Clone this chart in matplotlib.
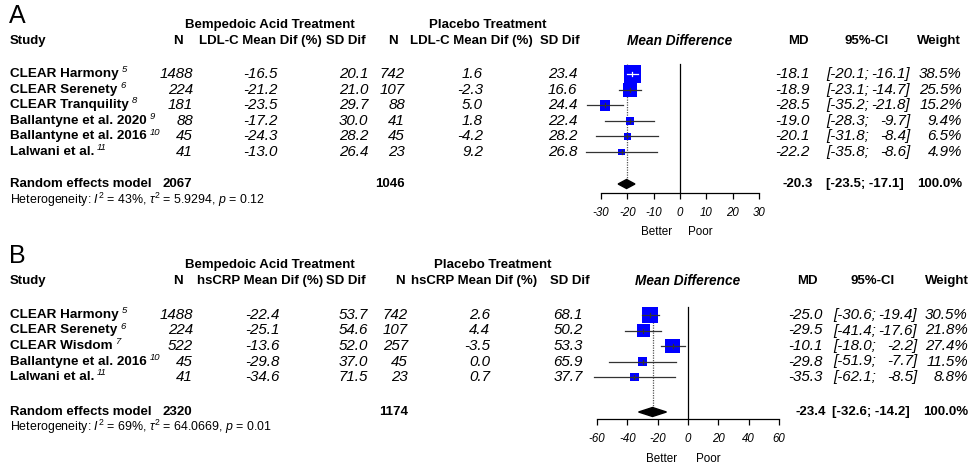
import matplotlib
matplotlib.use("Agg")
import matplotlib.pyplot as plt
from matplotlib.patches import Rectangle, Polygon

plt.rcParams["font.family"] = ["Liberation Sans", "DejaVu Sans"]
plt.rcParams["mathtext.fontset"] = "custom"
plt.rcParams["mathtext.rm"] = "Liberation Sans"
plt.rcParams["mathtext.it"] = "Liberation Sans:italic"
plt.rcParams["mathtext.bf"] = "Liberation Sans:bold"

# ---- Panel A: LDL-C ----
a_studies = ["CLEAR Harmony", "CLEAR Serenety", "CLEAR Tranquility",
             "Ballantyne et al. 2020", "Ballantyne et al. 2016", "Lalwani et al."]
a_refs = ["5", "6", "8", "9", "10", "11"]
a_n_bem = [1488, 224, 181, 88, 45, 41]
a_mean_bem = [-16.5, -21.2, -23.5, -17.2, -24.3, -13.0]
a_sd_bem = [20.1, 21.0, 29.7, 30.0, 28.2, 26.4]
a_n_pla = [742, 107, 88, 41, 45, 23]
a_mean_pla = [1.6, -2.3, 5.0, 1.8, -4.2, 9.2]
a_sd_pla = [23.4, 16.6, 24.4, 22.4, 28.2, 26.8]
a_md = [-18.1, -18.9, -28.5, -19.0, -20.1, -22.2]
a_lo = [-20.1, -23.1, -35.2, -28.3, -31.8, -35.8]
a_hi = [-16.1, -14.7, -21.8, -9.7, -8.4, -8.6]
a_weight = [38.5, 25.5, 15.2, 9.4, 6.5, 4.9]
a_pooled = [-20.3, -23.5, -17.1]
a_totals = [2067, 1046]
a_het = ["43%", "5.9294", "0.12"]
a_ticks = [-30, -20, -10, 0, 10, 20, 30]

# ---- Panel B: hsCRP ----
b_studies = ["CLEAR Harmony", "CLEAR Serenety", "CLEAR Wisdom",
             "Ballantyne et al. 2016", "Lalwani et al."]
b_refs = ["5", "6", "7", "10", "11"]
b_n_bem = [1488, 224, 522, 45, 41]
b_mean_bem = [-22.4, -25.1, -13.6, -29.8, -34.6]
b_sd_bem = [53.7, 54.6, 52.0, 37.0, 71.5]
b_n_pla = [742, 107, 257, 45, 23]
b_mean_pla = [2.6, 4.4, -3.5, 0.0, 0.7]
b_sd_pla = [68.1, 50.2, 53.3, 65.9, 37.7]
b_md = [-25.0, -29.5, -10.1, -29.8, -35.3]
b_lo = [-30.6, -41.4, -18.0, -51.9, -62.1]
b_hi = [-19.4, -17.6, -2.2, -7.7, -8.5]
b_weight = [30.5, 21.8, 27.4, 11.5, 8.8]
b_pooled = [-23.4, -32.6, -14.2]
b_totals = [2320, 1174]
b_het = ["69%", "64.0669", "0.01"]
b_ticks = [-60, -40, -20, 0, 20, 40, 60]

W, H = 971, 466
fig = plt.figure(figsize=(W / 100, H / 100), dpi=100)
tab = fig.add_axes([0, 0, 1, 1])
tab.set_xlim(0, W)
tab.set_ylim(H, 0)
tab.axis("off")

ROW = 10.9
HEAD = 9.5
BLUE = "#0000FF"


def panel(letter, top, studies, refs, n_bem, mean_bem, sd_bem, n_pla, mean_pla,
          sd_pla, md, lo, hi, weight, pooled, totals, het, ticks, measure, lay):
    # header block
    tab.text(9, top + 16, letter, fontsize=18, va="center", ha="left")
    tab.text(270, top + 25, "Bempedoic Acid Treatment", fontsize=HEAD,
             fontweight="bold", ha="center", va="center")
    tab.text(lay["pla_c"], top + 25, "Placebo Treatment", fontsize=HEAD,
             fontweight="bold", ha="center", va="center")
    hy = top + 41
    hd = dict(fontsize=HEAD, fontweight="bold", ha="center", va="center")
    tab.text(10, hy, "Study", fontsize=HEAD, fontweight="bold", va="center")
    tab.text(178, hy, "N", **hd)
    tab.text(260, hy, measure + " Mean Dif (%)", **hd)
    tab.text(346, hy, "SD Dif", **hd)
    tab.text(lay["n2_c"], hy, "N", **hd)
    tab.text(lay["m2_c"], hy, measure + " Mean Dif (%)", **hd)
    tab.text(lay["sd2_c"], hy, "SD Dif", **hd)
    tab.text(lay["zero"], hy, "Mean Difference", fontsize=9.8, fontweight="bold",
             style="italic", ha="center", va="center")
    tab.text(lay["md_c"], hy, "MD", **hd)
    tab.text(lay["ci_c"], hy, "95%-CI", **hd)
    tab.text(lay["w_c"], hy, "Weight", **hd)

    # study rows
    rows = [top + lay["r0"] + i * lay["dy"] for i in range(len(studies))]
    it = dict(fontsize=ROW, style="italic", va="center", ha="right")
    for i, y in enumerate(rows):
        t = tab.text(10, y, studies[i], fontsize=9.7, fontweight="bold", va="center")
        tab.annotate(refs[i], xy=(1, 0.86), xycoords=t, xytext=(2, 0),
                     textcoords="offset points", fontsize=6.8, style="italic",
                     ha="left", va="center")
        tab.text(193, y, f"{n_bem[i]}", **it)
        tab.text(lay["m1_r"], y, f"{mean_bem[i]:.1f}", **it)
        tab.text(368, y, f"{sd_bem[i]:.1f}", **it)
        tab.text(lay["n2_r"], y, f"{n_pla[i]}", **it)
        tab.text(lay["m2_r"], y, f"{mean_pla[i]:.1f}", **it)
        tab.text(lay["sd2_r"], y, f"{sd_pla[i]:.1f}", **it)
        tab.text(lay["md_r"], y, f"{md[i]:.1f}", **it)
        tab.text(lay["semi"], y, f"[{lo[i]:.1f};", **it)
        tab.text(lay["ci_r"], y, f"{hi[i]:.1f}]", **it)
        tab.text(lay["w_r"], y, f"{weight[i]:.1f}%", **it)

    # pooled row
    ry = top + lay["pool"]
    bd = dict(fontsize=HEAD, fontweight="bold", va="center")
    tab.text(10, ry, "Random effects model", **bd)
    tab.text(192, ry, f"{totals[0]}", ha="right", **bd)
    tab.text(lay["n2_r"], ry, f"{totals[1]}", ha="right", **bd)
    tab.text(lay["md_r"] + 3, ry, f"{pooled[0]:.1f}", ha="right", **bd)
    tab.text(lay["ci_c"] - 2, ry, f"[{pooled[1]:.1f}; {pooled[2]:.1f}]", ha="center", **bd)
    tab.text(lay["w_r"], ry, "100.0%", ha="right", **bd)
    tab.text(10, top + lay["het"],
             r"Heterogeneity: $I^2$ = " + het[0] + r", $\tau^2$ = " + het[1]
             + r", $p$ = " + het[2], fontsize=8.9, va="center")

    # forest plot axes, y in pixel rows
    ppu = lay["ppu"]
    left, right = lay["zero"] - 110, lay["zero"] + 110
    ftop, fbot = top + 60, top + lay["axis"]
    ax = fig.add_axes([left / W, 1 - fbot / H, (right - left) / W, (fbot - ftop) / H])
    ax.set_xlim((left - lay["zero"]) / ppu, (right - lay["zero"]) / ppu)
    ax.set_ylim(fbot, ftop)
    for s in ["top", "left", "right"]:
        ax.spines[s].set_visible(False)
    ax.spines["bottom"].set_bounds(ticks[0], ticks[-1])
    ax.spines["bottom"].set_linewidth(0.9)
    ax.set_yticks([])
    ax.set_xticks(ticks)
    ax.set_xticklabels([str(t) for t in ticks], fontsize=8.3, style="italic")
    ax.tick_params(axis="x", length=4, width=0.9, pad=6)
    ax.patch.set_alpha(0)

    ax.plot([0, 0], [ftop + lay["ztop"], fbot], color="black", lw=0.9)
    ax.plot([pooled[0]] * 2, [ftop + lay["ztop"], ry - 4], color="#555555", lw=0.9,
            ls=(0, (1, 1)))
    for i, y in enumerate(rows):
        side = 2.75 * weight[i] ** 0.5
        half = side / 2 / ppu
        inside = lo[i] > md[i] - half and hi[i] < md[i] + half
        col = "white" if inside else "#333333"
        ax.add_patch(Rectangle((md[i] - half, y - side / 2), 2 * half, side,
                               facecolor=BLUE, edgecolor="none", zorder=2))
        ax.plot([lo[i], hi[i]], [y, y], color=col, lw=0.9, zorder=3)
        ax.plot([md[i], md[i]], [y - 2, y + 2], color=col, lw=0.9, zorder=3)
    dh = 4.5
    ax.add_patch(Polygon([(pooled[1], ry), (pooled[0], ry - dh), (pooled[2], ry),
                          (pooled[0], ry + dh)], closed=True, facecolor="black",
                         edgecolor="black", zorder=3))
    tab.text(lay["better"], top + lay["bp"], "Better", fontsize=8.4, ha="center", va="center")
    tab.text(lay["poor"], top + lay["bp"], "Poor", fontsize=8.4, ha="center", va="center")


lay_a = dict(pla_c=488, n2_c=393, m2_c=471, sd2_c=560, zero=680, md_c=798, ci_c=867,
             w_c=939, r0=74, dy=15.6, m1_r=278, n2_r=405, m2_r=483, sd2_r=577,
             md_r=810, semi=869, ci_r=910, w_r=962, pool=184, het=200, ppu=158 / 60,
             axis=193, ztop=4, better=657, poor=700, bp=232)
lay_b = dict(pla_c=493, n2_c=400, m2_c=474, sd2_c=570, zero=688, md_c=807, ci_c=873,
             w_c=947, r0=75, dy=15.5, m1_r=280, n2_r=408, m2_r=490, sd2_r=583,
             md_r=823, semi=876, ci_r=917, w_r=968, pool=172, het=187, ppu=182 / 120,
             axis=179, ztop=7, better=662, poor=708, bp=219)

panel("A", 0, a_studies, a_refs, a_n_bem, a_mean_bem, a_sd_bem, a_n_pla, a_mean_pla,
      a_sd_pla, a_md, a_lo, a_hi, a_weight, a_pooled, a_totals, a_het, a_ticks, "LDL-C", lay_a)
panel("B", 240, b_studies, b_refs, b_n_bem, b_mean_bem, b_sd_bem, b_n_pla, b_mean_pla,
      b_sd_pla, b_md, b_lo, b_hi, b_weight, b_pooled, b_totals, b_het, b_ticks, "hsCRP", lay_b)

fig.savefig("out.png", dpi=100, facecolor="white")
